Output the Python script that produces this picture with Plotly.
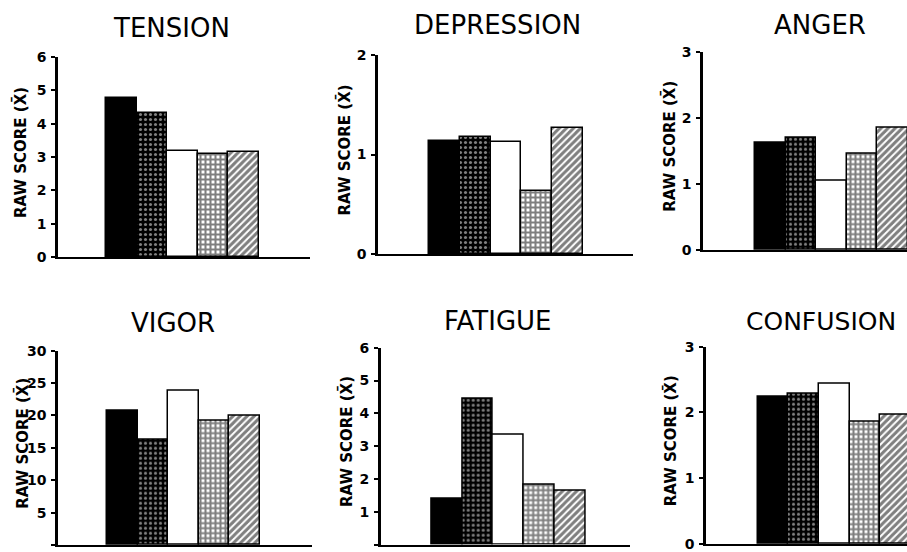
import plotly.graph_objects as go

W, H = 907, 552

groups = ["G1", "G2", "G3", "G4", "G5"]
panel_titles = ["TENSION", "DEPRESSION", "ANGER", "VIGOR", "FATIGUE", "CONFUSION"]
tension = [4.78, 4.31, 3.19, 3.09, 3.16]
depression = [1.135, 1.18, 1.13, 0.635, 1.27]
anger = [1.63, 1.70, 1.05, 1.45, 1.85]
vigor = [20.8, 16.2, 23.8, 19.25, 20.0]
fatigue = [1.41, 4.45, 3.34, 1.82, 1.63]
confusion = [2.24, 2.29, 2.43, 1.86, 1.96]
y_max = [6, 2, 3, 30, 6, 3]
y_step = [1, 1, 1, 5, 1, 1]
y_title = "RAW SCORE (X\u0304)"

series = [tension, depression, anger, vigor, fatigue, confusion]

# layout in pixels: (axis left, axis right, y of zero, y of top)
boxes = [
    (58, 310, 257, 57),
    (378, 633, 254, 55),
    (703, 907, 250, 51.7),
    (58, 312, 545, 350.7),
    (380.7, 630, 544.5, 347.7),
    (706, 907, 544, 346.7),
]
bar_left = [106, 429, 755, 107, 431.7, 757.7]
bar_w = [30.6, 30.8, 30.5, 30.6, 30.7, 30.6]
title_pos = [(171.5, 28), (497, 25), (820, 25), (173, 323), (498, 321), (821, 321)]
title_size = [26, 26, 26, 26, 26, 25]
ytitle_x = [20, 344, 669, 22, 346, 671]

fills = [
    dict(color="black"),
    dict(color="black", pattern=dict(shape=".", fgcolor="white", bgcolor="black", size=5, solidity=0.3)),
    dict(color="white"),
    dict(color="black", pattern=dict(shape="+", fgcolor="black", bgcolor="white", size=5, solidity=0.65)),
    dict(color="black", pattern=dict(shape="/", fgcolor="black", bgcolor="white", size=5, solidity=0.6)),
]

fig = go.Figure()
annotations = []
for i, vals in enumerate(series):
    n = i + 1
    xa = "x" if n == 1 else f"x{n}"
    ya = "y" if n == 1 else f"y{n}"
    for j, g in enumerate(groups):
        m = dict(fills[j])
        m["line"] = dict(color="black", width=1.5)
        fig.add_trace(go.Bar(x=[g], y=[vals[j]], marker=m, width=1.0,
                             xaxis=xa, yaxis=ya, showlegend=False))
    l, r, y0, y1 = boxes[i]
    w = bar_w[i]
    start = -0.5 - (bar_left[i] - l) / w
    end = start + (r - l) / w
    xkey = "xaxis" if n == 1 else f"xaxis{n}"
    ykey = "yaxis" if n == 1 else f"yaxis{n}"
    fig.update_layout(**{
        xkey: dict(domain=[l / W, min(r / W, 1.0)], range=[start, end], anchor=ya,
                   showline=True, linecolor="black", linewidth=2, showticklabels=False,
                   ticks="", showgrid=False, zeroline=False, fixedrange=True, automargin=False,
                   categoryorder="array", categoryarray=groups),
        ykey: dict(domain=[1 - y0 / H, 1 - y1 / H], range=[0, y_max[i]], anchor=xa,
                   showline=True, linecolor="black", linewidth=2.5,
                   tickvals=list(range(0, y_max[i] + 1, y_step[i])),
                   ticks="outside", ticklen=4, tickwidth=1.5, tickcolor="black",
                   ticklabelstandoff=2, automargin=False,
                   tickfont=dict(family="DejaVu Sans", size=14, color="black", weight="bold"),
                   showgrid=False, zeroline=False, fixedrange=True),
    })
    tx, ty = title_pos[i]
    annotations.append(dict(text=panel_titles[i], x=tx / W, y=1 - ty / H, xref="paper", yref="paper",
                            showarrow=False, xanchor="center", yanchor="middle",
                            font=dict(family="DejaVu Sans", size=title_size[i], color="black")))
    annotations.append(dict(text=y_title, x=ytitle_x[i] / W, y=1 - ((y0 + y1) / 2 - 4) / H,
                            xref="paper", yref="paper", showarrow=False, textangle=-90,
                            xanchor="center", yanchor="middle",
                            font=dict(family="DejaVu Sans", size=15, color="black", weight="bold")))

fig.update_layout(width=W, height=H, margin=dict(l=0, r=0, t=0, b=0, autoexpand=False),
                  paper_bgcolor="white", plot_bgcolor="white", bargap=0,
                  annotations=annotations)
fig.write_html("out.html", config={"displayModeBar": False},
               post_script="document.body.style.margin='0';document.body.style.overflow='hidden';")
